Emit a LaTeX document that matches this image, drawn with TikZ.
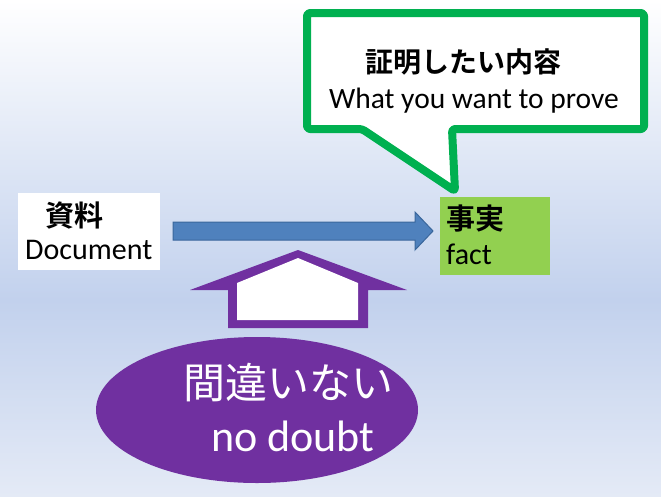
\documentclass[tikz,border=0pt]{standalone}
\usepackage{fontspec}
\setmainfont{Carlito}
\newfontfamily\jp{Noto Sans CJK JP}
\newfontfamily\jpb{Noto Sans CJK JP Bold}
\usetikzlibrary{shapes.geometric}
\definecolor{bgmid}{HTML}{C2D1ED}
\definecolor{bgbot}{HTML}{E4EAF6}
\definecolor{callgreen}{HTML}{00B050}
\definecolor{factgreen}{HTML}{92D050}
\definecolor{arrowblue}{HTML}{4F81BD}
\definecolor{arrowedge}{HTML}{3A679C}
\definecolor{purp}{HTML}{7030A0}
\tikzset{
  txt/.style={inner sep=0pt, anchor=base},
}
\begin{document}
\begin{tikzpicture}[x=1pt,y=-1pt]
\useasboundingbox (0,0) rectangle (661,496);
\shade[top color=white, bottom color=bgmid] (0,0) rectangle (661,300);
\shade[top color=bgmid, bottom color=bgbot] (0,299.5) rectangle (661,496);
% callout
\draw[line width=8pt, callgreen, fill=white, rounded corners=3pt, line join=round]
  (307,13) -- (644,13) -- (644,129) -- (452,129) -- (455,191) -- (362,129) -- (307,129) -- cycle;
\node[txt] (callj) at (463,72) {\jpb\fontsize{28}{32}\selectfont 証明したい内容};
\node[txt] (calle) at (474,108) {\fontsize{29.5}{32}\selectfont What you want to prove};
% document box
\node[fill=white, minimum width=142pt, minimum height=77pt, inner sep=0pt] (doc) at (89,231.5) {};
\node[txt, anchor=base west] (docj) at (45,226) {\jpb\fontsize{29}{32}\selectfont 資料};
\node[txt, anchor=base west] (doce) at (25,259) {\fontsize{30}{32}\selectfont Document};
% fact box
\node[fill=factgreen, minimum width=110pt, minimum height=78pt, inner sep=0pt] (fact) at (495,236) {};
\node[txt, anchor=base west] (factj) at (446,229) {\jpb\fontsize{29}{32}\selectfont 事実};
\node[txt, anchor=base west] (facte) at (446,264) {\fontsize{30}{32}\selectfont fact};
% blue arrow
\draw[arrowedge, fill=arrowblue, line width=1pt]
  (173,222) -- (415,222) -- (415,212) -- (433,231) -- (415,250) -- (415,240) -- (173,240) -- cycle;
% up arrow
\fill[purp] (298,250) -- (407,290) -- (368,290) -- (368,328) -- (228,328) -- (228,290) -- (190,290) -- cycle;
\fill[white] (298,258) -- (358,283) -- (358,320) -- (237,320) -- (237,283) -- cycle;
% ellipse
\node[ellipse, fill=purp, minimum width=322pt, minimum height=146pt, inner sep=0pt] (sure) at (257,410) {};
\node[txt, text=white] (surej) at (288,398) {\jp\fontsize{42}{46}\selectfont 間違いない};
\node[txt, text=white] (suree) at (293,451) {\fontsize{44}{48}\selectfont no doubt};
\end{tikzpicture}
\end{document}
